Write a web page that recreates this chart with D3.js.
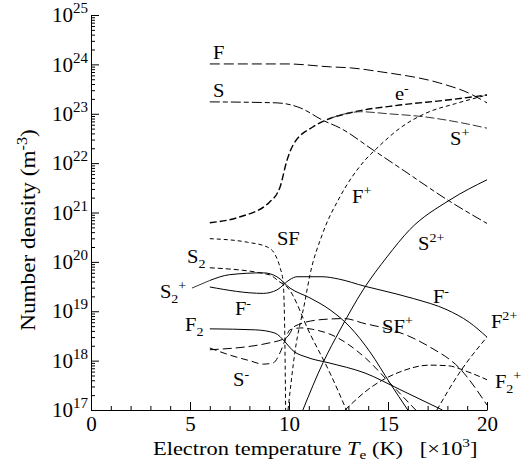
<!DOCTYPE html>
<html>
<head>
<meta charset="utf-8">
<script src="https://cdnjs.cloudflare.com/ajax/libs/d3/7.8.5/d3.min.js"></script>
<style>
  body { margin: 0; background: #fff; }
  svg { display: block; background: #fff; font-family: "Liberation Serif", "DejaVu Serif", serif; }
</style>
</head>
<body>
<svg id="canvas"></svg>
<script>
// x = electron temperature (x10^3 K), y = number density (m^-3)
let F_    = [[6, 1.02e24], [9.9, 1.02e24], [12.1, 8.9e23], [13.1, 8.5e23], [14.6, 7.1e23], [17.6, 4.2e23], [19.1, 2.6e23], [20, 1.66e23]]
let S_    = [[6, 1.74e23], [9.4, 1.66e23], [10.6, 1.3e23], [11.7, 7.4e22], [12.6, 5.1e22], [14.2, 1.9e22], [15.6, 8e21], [18.1, 1.7e21], [20, 6e20]]
let eM    = [[6, 6.2e20], [7.5, 8.1e20], [9.0, 1.6e21], [9.55, 3.3e21], [9.9, 1.15e22], [10.2, 2.3e22], [11.2, 5.4e22], [12.1, 8.1e22], [13.1, 1.05e23], [15.6, 1.5e23], [18, 1.9e23], [20, 2.4e23]]
let Sp    = [[12.1, 8.1e22], [13.1, 1.05e23], [13.6, 1.1e23], [15.0, 1.0e23], [16.8, 8.7e22], [18.5, 6.8e22], [20, 5.1e22]]
let Fp    = [[9.95, 1e17], [10.3, 1.5e18], [10.8, 1.55e19], [11.06, 5.5e19], [11.67, 3.5e20], [12.58, 2.1e21], [13.84, 1.15e22], [14.44, 2e22], [15.6, 5.1e22], [16.97, 1.05e23], [18.4, 1.6e23], [19.65, 2.2e23], [20, 2.4e23]]
let Spp   = [[10.7, 1e17], [11.72, 9.1e17], [12.58, 4.2e18], [13.74, 2.7e19], [14.95, 1.26e20], [16.1, 4.5e20], [18.13, 1.8e21], [20, 4.6e21]]
let SF_   = [[6, 2.95e20], [7.9, 2.5e20], [8.9, 2.0e20], [9.3, 1.4e20], [9.55, 7.6e19], [9.7, 4e19], [9.78, 5e18], [9.83, 1e17]]
let S2_   = [[6, 7.6e19], [9.0, 5.5e19], [9.5, 4e19], [9.95, 2.95e19], [11.06, 3.5e18], [12.07, 5.6e17], [12.9, 1e17]]
let S2p   = [[6, 4.2e19], [7.0, 5.5e19], [8.7, 6e19], [9.39, 5e19], [10.05, 2.95e19], [11.06, 1.86e19], [12.07, 1.07e19], [13.08, 4.8e18], [14.09, 1.5e18], [15.1, 3.5e17], [16.0, 1e17]]
let Fm    = [[6, 3.1e19], [8.7, 2.3e19], [9.39, 2.7e19], [10.05, 4.4e19], [10.4, 5e19], [11.67, 5e19], [12.5, 4.5e19], [13.84, 3.2e19], [14.6, 2.7e19], [16.3, 1.8e19], [17.98, 1.07e19], [19.1, 6e18], [20, 3e18]]
let F2_   = [[6, 4.4e18], [8.3, 4.2e18], [9.3, 3.6e18], [9.8, 2.4e18], [10.15, 1.66e18], [10.96, 1.15e18], [11.97, 9.1e17], [13.84, 5.6e17], [15.6, 2.6e17], [17.75, 1e17]]
let Sm    = [[6, 1.8e18], [7.0, 1.3e18], [8.0, 1.0e18], [8.7, 8.5e17], [9.2, 9e17], [9.55, 1.45e18], [9.8, 2.6e18], [10.05, 4.2e18], [10.6, 4.6e18], [11.2, 4.3e18], [12.17, 3.3e18], [13.84, 1.15e18], [15.1, 3.5e17], [16.4, 1e17]]
let SFp   = [[6, 1.66e18], [9.04, 2.3e18], [9.9, 3e18], [10.3, 5e18], [11.67, 6.8e18], [12.8, 7.1e18], [13.84, 5.6e18], [14.6, 4.8e18], [16.0, 3.2e18], [17.1, 1.9e18], [18.6, 7.1e17], [20, 1.26e17]]
let F2p   = [[12.83, 1e17], [14.1, 2.8e17], [15.6, 5.9e17], [17.1, 8.1e17], [18.0, 7.9e17], [19.0, 6e17], [20, 4.1e17]]
let Fpp   = [[17.47, 1e17], [18.6, 5.6e17], [20, 3e18]]
let S2pLeader = [[5.1, 2.95e19], [6, 4.2e19]]

let xMajor = [0, 5, 10, 15, 20]
let xMinor = d3.range(0, 21, 1)
let yMajor = [1e17, 1e18, 1e19, 1e20, 1e21, 1e22, 1e23, 1e24, 1e25]

let width = 521
let height = 468

let xScale = d3.scaleLinear().domain([0, 20]).range([91, 487])
let yScale = d3.scaleLog().domain([1e17, 1e25]).range([410, 15])

let canvas = d3.select('#canvas')
canvas.attr('width', width)
canvas.attr('height', height)

let series = [
  { data: F_,   dash: '10,4' },
  { data: S_,   dash: '10,3,5,3' },
  { data: eM,   dash: '7,3', w: 1.4 },
  { data: Sp,   dash: '9,3', color: '#333' },
  { data: Fp,   dash: '4,3' },
  { data: Spp,  dash: null },
  { data: SF_,  dash: '4,3' },
  { data: S2_,  dash: '5,3' },
  { data: S2p,  dash: null },
  { data: Fm,   dash: null },
  { data: F2_,  dash: null },
  { data: Sm,   dash: '7,4' },
  { data: SFp,  dash: '9,4' },
  { data: F2p,  dash: '6,3' },
  { data: Fpp,  dash: '5,3' },
  { data: S2pLeader, dash: null, w: 0.8 }
]

// label anchors in data units (left edge, baseline)
let labels = [
  { at: [6.16, 1.3e24],  parts: [['F']] },
  { at: [6.16, 2.2e23],  parts: [['S']] },
  { at: [15.35, 1.9e23], parts: [['e'], ['-', 'sup']] },
  { at: [18.13, 2.3e22], parts: [['S'], ['+', 'sup']] },
  { at: [13.18, 1.55e21], parts: [['F'], ['+', 'sup']] },
  { at: [16.52, 1.74e20], parts: [['S'], ['2+', 'sup']] },
  { at: [9.39, 2.2e20],  parts: [['SF']] },
  { at: [4.85, 9.5e19],  parts: [['S'], ['2', 'sub']] },
  { at: [3.48, 1.86e19], parts: [['S'], ['2', 'sub'], ['+', 'supAfterSub']] },
  { at: [7.27, 8.5e18],  parts: [['F'], ['-', 'sup']] },
  { at: [4.75, 4.0e18],  parts: [['F'], ['2', 'sub']] },
  { at: [7.17, 3e17],    parts: [['S'], ['-', 'sup']] },
  { at: [14.7, 3.6e18],  parts: [['SF'], ['+', 'sup']] },
  { at: [17.27, 1.48e19], parts: [['F'], ['-', 'sup']] },
  { at: [20.2, 4.6e18],  parts: [['F'], ['2+', 'sup']] },
  { at: [20.4, 2.8e17],  parts: [['F'], ['2', 'sub'], ['+', 'supAfterSub']] }
]

let line = d3.line()
  .x((d) => xScale(d[0]))
  .y((d) => yScale(d[1]))
  .curve(d3.curveMonotoneX)

let drawCurves = () => {
  canvas.append('g')
    .selectAll('path')
    .data(series)
    .enter()
    .append('path')
    .attr('d', (s) => line(s.data))
    .attr('fill', 'none')
    .attr('stroke', (s) => s.color || '#000')
    .attr('stroke-width', (s) => s.w || 1)
    .attr('stroke-dasharray', (s) => s.dash)
}

let writeParts = (textSel, parts, small) => {
  parts.forEach((p) => {
    let t = textSel.append('tspan').text(p[0])
    if (p[1] === 'sup') {
      t.attr('font-size', small).attr('dy', -8)
    } else if (p[1] === 'sub') {
      t.attr('font-size', small).attr('dy', 5)
    } else if (p[1] === 'supAfterSub') {
      t.attr('font-size', small).attr('dy', -13)
    }
  })
}

let drawLabels = () => {
  labels.forEach((l) => {
    let x = xScale(l.at[0])
    let y = yScale(l.at[1])
    let t = canvas.append('text')
      .attr('transform', `translate(${x}, ${y}) scale(1.08, 1)`)
      .attr('font-size', 19)
      .attr('fill', '#000')
    writeParts(t, l.parts, 13)
  })
}

let drawAxes = () => {
  let xAxis = d3.axisBottom(xScale)
    .tickValues(xMajor)
    .tickSizeInner(-8)
    .tickSizeOuter(0)
    .tickPadding(6)
    .tickFormat(d3.format('d'))

  let gx = canvas.append('g')
    .attr('transform', 'translate(0, 410)')
    .call(xAxis)
  gx.attr('font-size', 21).attr('font-family', null)

  let xMinorAxis = d3.axisBottom(xScale)
    .tickValues(xMinor)
    .tickSizeInner(-4)
    .tickSizeOuter(0)
    .tickFormat('')
  canvas.append('g')
    .attr('transform', 'translate(0, 410)')
    .call(xMinorAxis)
    .select('.domain').remove()

  let yAxis = d3.axisLeft(yScale)
    .tickValues(yMajor)
    .tickSizeInner(-8)
    .tickSizeOuter(0)
    .tickPadding(3)
    .tickFormat('')

  let gy = canvas.append('g')
    .attr('transform', 'translate(91, 0)')
    .call(yAxis)
  gy.attr('font-size', 21).attr('font-family', null)
  gy.selectAll('.tick text').each(function (d) {
    let t = d3.select(this)
    t.append('tspan').text('10')
    t.append('tspan').attr('font-size', 15).attr('dy', -9).text(Math.round(Math.log10(d)))
  })

  let yMinor = []
  for (let k = 17; k < 25; k++) {
    for (let m = 2; m <= 9; m++) yMinor.push(m * Math.pow(10, k))
  }
  let yMinorAxis = d3.axisLeft(yScale)
    .tickValues(yMinor)
    .tickSizeInner(-4)
    .tickSizeOuter(0)
    .tickFormat('')
  canvas.append('g')
    .attr('transform', 'translate(91, 0)')
    .call(yMinorAxis)
    .select('.domain').remove()

  canvas.selectAll('.tick line').attr('stroke', '#000')
  canvas.selectAll('.domain').attr('stroke', '#000')

  // axis titles
  let xt = canvas.append('text')
    .attr('transform', 'translate(153, 455) scale(1.18, 1)')
    .attr('font-size', 19)
    .style('white-space', 'pre')
  xt.append('tspan').text('Electron temperature ')
  xt.append('tspan').attr('font-style', 'italic').text('T')
  xt.append('tspan').attr('font-size', 13).attr('dy', 4).text('e')
  xt.append('tspan').attr('dy', -4).text(' (K)\u00a0\u00a0\u00a0[\u00d710')
  xt.append('tspan').attr('font-size', 13).attr('dy', -8).text('3')
  xt.append('tspan').attr('dy', 8).text(']')

  let yt = canvas.append('text')
    .attr('transform', 'translate(35, 230) rotate(-90) scale(1.16, 1)')
    .attr('text-anchor', 'middle')
    .attr('font-size', 20)
  yt.append('tspan').text('Number density (m')
  yt.append('tspan').attr('font-size', 14).attr('dy', -8).text('-3')
  yt.append('tspan').attr('dy', 8).text(')')
}

drawCurves()
drawLabels()
drawAxes()
</script>
</body>
</html>
